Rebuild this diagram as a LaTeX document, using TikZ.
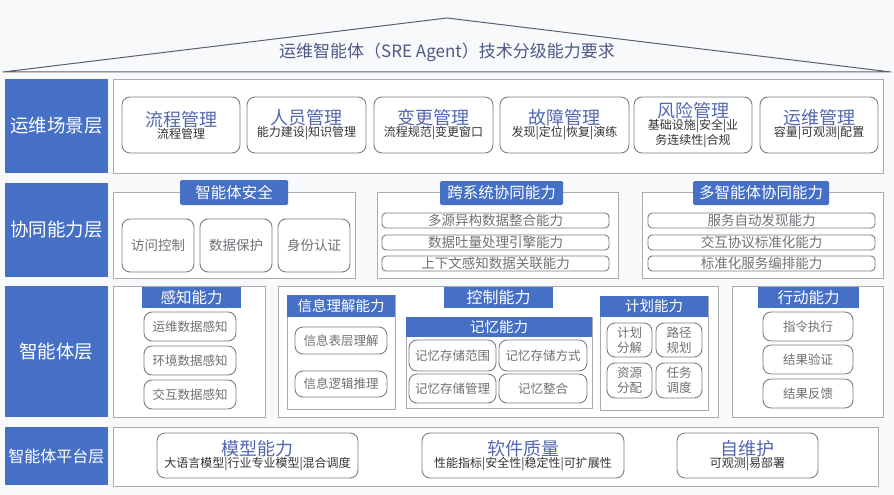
\documentclass[tikz,border=0pt]{standalone}
\usepackage{fontspec}
\usepackage{tikz}
\usetikzlibrary{positioning}
\newfontfamily\cjk{Noto Sans CJK SC}
\definecolor{sreBlue}{HTML}{4670C6}
\definecolor{sreTitle}{HTML}{5267B0}
\definecolor{sreHead}{HTML}{4F5A86}
\definecolor{sreInk}{HTML}{333333}
\definecolor{sreGray}{HTML}{707076}
\definecolor{sreLine}{HTML}{7C7C84}
\definecolor{srePanel}{HTML}{AAAAB0}
\definecolor{sreBg}{HTML}{F8F9FB}
\definecolor{sreRoof}{HTML}{5A6070}
\newcommand{\fsz}[2]{\fontsize{#1}{#2}\selectfont}
\newcommand{\ctl}[1]{{\color{sreTitle}\fsz{18}{21}#1}}
\newcommand{\csb}[1]{{\color{sreInk}\fsz{12}{13.5}#1}}
\tikzset{
  every node/.style={font=\cjk, inner sep=0pt, outer sep=0pt},
  wh/.style 2 args={minimum width=#1, minimum height=#2},
  layer/.style={fill=sreBlue, text=white, anchor=north west, font=\cjk\fsz{18.5}{22}},
  panel/.style={draw=srePanel, fill=white, line width=0.8pt, anchor=north west},
  tab/.style={fill=sreBlue, text=white, anchor=north west, rounded corners=1.5pt,
              font=\cjk\fsz{15.5}{18}},
  head/.style={fill=sreBlue, text=white, anchor=north west, font=\cjk\fsz{14.5}{17}},
  card/.style={draw=sreLine, fill=white, line width=0.9pt, rounded corners=8pt,
               anchor=north west, align=center},
  chip/.style={card, text=sreGray, font=\cjk\fsz{12.5}{15}},
  bar/.style={card, rounded corners=4pt, text=sreGray, font=\cjk\fsz{13.5}{15}},
}

\begin{document}
\begin{tikzpicture}[x=1pt, y=-1pt]
  \useasboundingbox[fill=sreBg] (0,0) rectangle (894,495);
  % roof with the title
  \coordinate (eaveL) at (3,72);
  \coordinate (ridge) at (447,18);
  \coordinate (eaveR) at (891,72);
  \draw[sreRoof, line width=1pt, line join=round] (eaveL) -- (ridge) -- (eaveR) -- cycle;
  \node[text=sreHead, font=\cjk\fsz{17}{20}] (title) at (447,52)
    {运维智能体（SRE Agent）技术分级能力要求};

  % scenario layer
  \node[layer, wh={103}{94}] (lyOps) at (5,79) {运维场景层};
  \node[panel, wh={770}{94}] (pnOps) at (113,79) {};
  \node[card, wh={118}{56}] (scFlow) at (122,97) {\ctl{流程管理}\\\csb{流程管理}};
  \node[card, wh={119}{56}] (scStaff) at (247,97) {\ctl{人员管理}\\\csb{能力建设|知识管理}};
  \node[card, wh={119}{56}] (scChange) at (374,97) {\ctl{变更管理}\\\csb{流程规范|变更窗口}};
  \node[card, wh={129}{56}] (scFault) at (500,97) {\ctl{故障管理}\\\csb{发现|定位|恢复|演练}};
  \node[card, wh={118}{56}] (scRisk) at (634,97)
    {\ctl{风险管理}\\\csb{基础设施|安全|业}\\\csb{务连续性|合规}};
  \node[card, wh={118}{56}] (scOps) at (760,97) {\ctl{运维管理}\\\csb{容量|可观测|配置}};

  % cooperation layer
  \node[layer, wh={103}{94}] (lyCoop) at (5,183) {协同能力层};
  \node[panel, wh={242}{86}] (pnSafe) at (113,192) {};
  \node[tab, wh={108}{25}] (tbSafe) at (180,180) {智能体安全};
  \foreach \x/\t [count=\i] in {122/访问控制, 200/数据保护, 278/身份认证}
    \node[chip, wh={72}{53}, font=\cjk\fsz{13.5}{16}] (sf\i) at (\x,219) {\t};
  \node[panel, wh={241}{86}] (pnCross) at (377,192) {};
  \node[tab, wh={123}{24}] (tbCross) at (440,181) {跨系统协同能力};
  \foreach \y/\t [count=\i] in {213/多源异构数据整合能力, 235/数据吐量处理引擎能力,
                               256/上下文感知数据关联能力}
    \node[bar, wh={227}{15}] (cs\i) at (382,\y) {\t};
  \node[panel, wh={241}{86}] (pnMulti) at (642,192) {};
  \node[tab, wh={136}{24}] (tbMulti) at (693,181) {多智能体协同能力};
  \foreach \y/\t [count=\i] in {213/服务自动发现能力, 235/交互协议标准化能力,
                               256/标准化服务编排能力}
    \node[bar, wh={227}{15}] (ma\i) at (648,\y) {\t};

  % agent layer
  \node[layer, wh={103}{131}] (lyAgent) at (5,286) {智能体层};
  \node[panel, wh={152}{131}] (pnSense) at (113,286) {};
  \node[head, wh={99}{21}, font=\cjk\fsz{15.5}{18}] (hdSense) at (142,287) {感知能力};
  \foreach \y/\t [count=\i] in {312/运维数据感知, 346/环境数据感知, 380/交互数据感知}
    \node[chip, wh={92}{29}] (se\i) at (144,\y) {\t};
  \node[panel, wh={440}{131}] (pnCore) at (278,286) {};
  % understanding
  \node[panel, wh={108}{114}] (pnInfo) at (287,295) {};
  \node[head, wh={108}{22}] (hdInfo) at (287,295) {信息理解能力};
  \node[chip, wh={92}{27}] (inSurf) at (295,327) {信息表层理解};
  \node[chip, wh={92}{26}] (inLogic) at (295,371) {信息逻辑推理};
  % control and memory
  \node[head, wh={109}{21}, font=\cjk\fsz{16}{19}] (hdCtrl) at (444,287) {控制能力};
  \node[panel, wh={186}{91}] (pnMem) at (406,317) {};
  \node[head, wh={186}{20}] (hdMem) at (406,317) {记忆能力};
  \node[chip, wh={87}{31}] (mmScope) at (409,340) {记忆存储范围};
  \node[chip, wh={88}{31}] (mmMode) at (499,340) {记忆存储方式};
  \node[chip, wh={87}{29}] (mmMgmt) at (409,374) {记忆存储管理};
  \node[chip, wh={88}{29}] (mmMerge) at (499,374) {记忆整合};
  % planning
  \node[panel, wh={108}{114}] (pnPlan) at (600,296) {};
  \node[head, wh={108}{21}] (hdPlan) at (600,296) {计划能力};
  \node[chip, wh={45}{34}] (plSplit) at (607,323) {计划\\分解};
  \node[chip, wh={46}{34}] (plPath) at (656,323) {路径\\规划};
  \node[chip, wh={45}{35}] (plRes) at (607,363) {资源\\分配};
  \node[chip, wh={46}{35}] (plTask) at (656,363) {任务\\调度};
  % action
  \node[panel, wh={151}{131}] (pnAct) at (732,286) {};
  \node[head, wh={101}{21}, font=\cjk\fsz{15.5}{18}] (hdAct) at (758,287) {行动能力};
  \foreach \y/\t [count=\i] in {312/指令执行, 345/结果验证, 379/结果反馈}
    \node[chip, wh={90}{29}] (ac\i) at (763,\y) {\t};

  % platform layer
  \node[layer, wh={103}{58}, font=\cjk\fsz{16}{20}] (lyBase) at (5,427) {智能体平台层};
  \node[panel, wh={765}{59}] (pnBase) at (113,427) {};
  \node[card, wh={201}{45}] (bsModel) at (157,433)
    {\ctl{模型能力}\\\csb{大语言模型|行业专业模型|混合调度}};
  \node[card, wh={202}{45}] (bsQual) at (422,433)
    {\ctl{软件质量}\\\csb{性能指标|安全性|稳定性|可扩展性}};
  \node[card, wh={141}{45}] (bsSelf) at (677,433) {\ctl{自维护}\\\csb{可观测|易部署}};
\end{tikzpicture}
\end{document}
